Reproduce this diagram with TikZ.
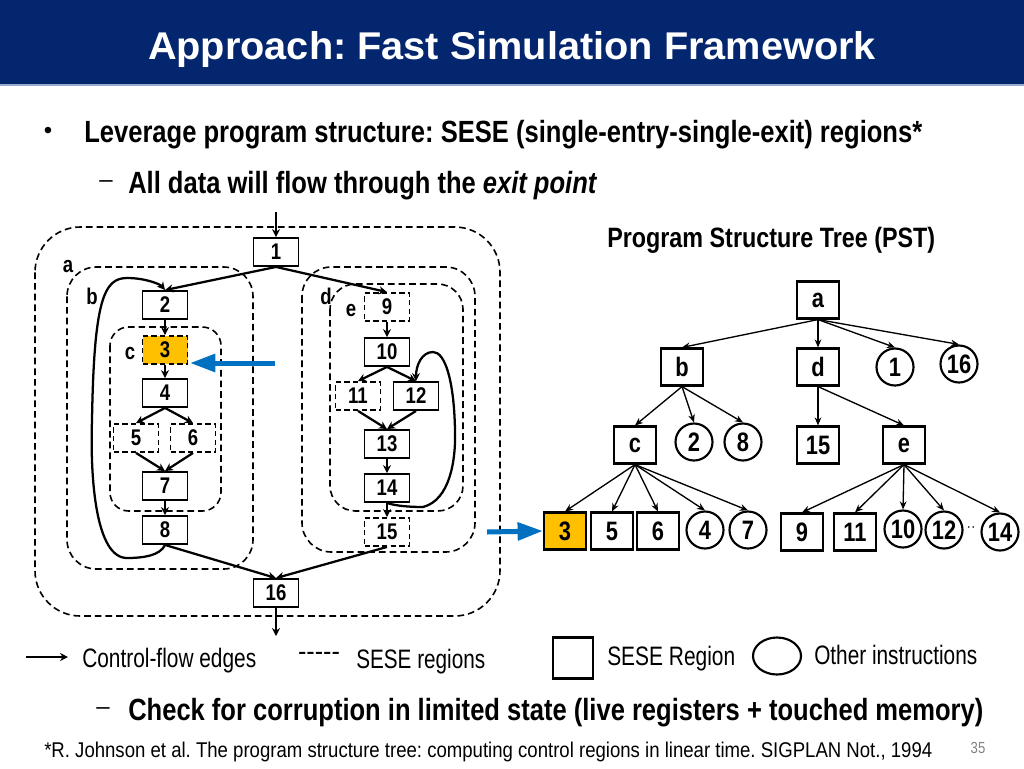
\documentclass[tikz,border=0pt]{standalone}
\usepackage{fontspec}
\usepackage{graphicx}
\setmainfont{Liberation Sans}
\newfontfamily\nar{Liberation Sans}[FakeStretch=0.82]
\usetikzlibrary{arrows.meta}
\definecolor{navy}{RGB}{4,38,110}
\definecolor{pblue}{RGB}{0,112,192}
\definecolor{pyel}{RGB}{255,192,0}
\definecolor{hline}{RGB}{150,170,205}
\newcommand\fitw[2]{\resizebox{#1}{\height}{#2}}
\frenchspacing
\tikzset{
  cfg/.style={draw, line width=1.4pt, fill=white, minimum width=33.75pt, minimum height=21pt, inner sep=0pt, font=\nar\bfseries\fontsize{17}{20}\selectfont},
  cfgd/.style={cfg, dash pattern=on 4pt off 2.5pt},
  region/.style={draw, line width=1.2pt, dash pattern=on 5pt off 3pt},
  edge/.style={-{Stealth[length=6pt,width=6pt]}, line width=1.7pt},
  tbox/.style={draw, line width=1.6pt, fill=white, minimum width=31.5pt, minimum height=27.75pt, inner sep=0pt, font=\nar\bfseries\fontsize{20}{24}\selectfont},
  tcirc/.style={circle, draw, line width=1.6pt, fill=white, minimum size=27.75pt, inner sep=0pt, font=\nar\bfseries\fontsize{20}{24}\selectfont},
  tedge/.style={-{Stealth[length=6pt,width=5pt]}, line width=1pt},
  lbl/.style={font=\nar\bfseries\fontsize{17}{20}\selectfont, inner sep=0pt},
  barrow/.style={pblue, line width=3.75pt, -{Triangle[length=19pt,width=13pt]}},
  txt/.style={inner sep=0pt, anchor=base west},
}
\begin{document}
\begin{tikzpicture}[x=0.75pt,y=-0.75pt]
\useasboundingbox (0,0) rectangle (1024,768);
% header
\fill[navy] (0,0) rectangle (1024,84);
\draw[hline, line width=1pt] (0,85) -- (1024,85);
\node[inner sep=0pt, anchor=base, text=white] (title) at (512,59) {\fitw{546pt}{\bfseries\fontsize{29}{34}\selectfont Approach: Fast Simulation Framework}};
% bullets
\node[inner sep=0pt] (bul1) at (48,133) {\fontsize{18}{20}\selectfont\textbullet};
\node[txt] (t1) at (84,142) {\fitw{628.5pt}{\nar\bfseries\fontsize{23}{28}\selectfont Leverage program structure: SESE (single-entry-single-exit) regions*}};
\node[inner sep=0pt] (dash1) at (106,184) {\fontsize{18}{20}\selectfont --};
\node[txt] (t2) at (128,193) {\fitw{351.75pt}{\nar\bfseries\fontsize{23}{28}\selectfont All data will flow through the \textit{exit point}}};
% regions
\draw[region, rounded corners=34pt] (35,227) rectangle (500,616);
\draw[region, rounded corners=22pt] (67,267) rectangle (253,569);
\draw[region, rounded corners=14pt] (110,327) rectangle (221,511);
\draw[region, rounded corners=22pt] (302,267) rectangle (475,552);
\draw[region, rounded corners=19pt] (330,284) rectangle (463,511);
\node[lbl] (la) at (68,267) {a};
\node[lbl] (lb) at (92,296) {b};
\node[lbl] (lc) at (130,354) {c};
\node[lbl] (ld) at (326,296) {d};
\node[lbl] (le) at (351,311) {e};
% cfg nodes
\node[cfg] (n1) at (276,252) {1};
\node[cfg] (n2) at (165,305) {2};
\node[cfgd, fill=pyel] (n3) at (165,350) {3};
\node[cfg] (n4) at (165,393) {4};
\node[cfgd] (n5) at (136,438) {5};
\node[cfgd] (n6) at (193,438) {6};
\node[cfg] (n7) at (165,486) {7};
\node[cfg] (n8) at (165,530) {8};
\node[cfgd] (n9) at (387,307) {9};
\node[cfg] (n10) at (387,352) {10};
\node[cfgd] (n11) at (358,396) {11};
\node[cfg] (n12) at (416,396) {12};
\node[cfg] (n13) at (387,444) {13};
\node[cfg] (n14) at (387,488) {14};
\node[cfgd] (n15) at (387,532) {15};
\node[cfg] (n16) at (276,593) {16};
\coordinate (entry) at (276,212);
\coordinate (exit) at (276,636);
% cfg edges
\draw[edge] (entry) -- (n1.north);
\draw[edge] (n1.south) -- (n2.north);
\draw[edge] (n1.south) -- (n9.north);
\draw[edge] (n2.south) -- (n3.north);
\draw[edge] (n3.south) -- (n4.north);
\draw[edge] (n4.south) -- (n5.north);
\draw[edge] (n4.south) -- (n6.north);
\draw[edge] (n5.south) -- (n7.north);
\draw[edge] (n6.south) -- (n7.north);
\draw[edge] (n7.south) -- (n8.north);
\draw[edge] (n8.south) -- (n16.north);
\draw[edge] (n9.south) -- (n10.north);
\draw[edge] (n10.south) -- (n11.north);
\draw[edge] (n10.south) -- (n12.north);
\draw[edge] (n11.south) -- (n13.north);
\draw[edge] (n12.south) -- (n13.north);
\draw[edge] (n13.south) -- (n14.north);
\draw[edge] (n14.south) -- (n15.north);
\draw[edge] (n15.south) -- (n16.north);
\draw[edge] (n16.south) -- (exit);
\draw[edge] (n8.south) .. controls (160,556) and (142,558) .. (127,558)
  .. controls (96,558) and (90,480) .. (92,420)
  .. controls (94,300) and (104,278) .. (127,278)
  .. controls (145,278) and (160,284) .. (n2.north);
\draw[edge] (n14.south) .. controls (396,506) and (410,507) .. (423,507)
  .. controls (450,500) and (456,460) .. (455,430)
  .. controls (454,380) and (445,352) .. (433,352)
  .. controls (422,352) and (416,365) .. (n12.north);
% blue arrows
\coordinate (ba1) at (275,363);
\coordinate (ba1t) at (190,363);
\draw[barrow] (ba1) -- (ba1t);
% tree
\node[txt] (pst) at (607,247) {\fitw{246pt}{\nar\bfseries\fontsize{21}{25}\selectfont Program Structure Tree (PST)}};
\node[tbox] (ta) at (818,300) {a};
\node[tbox] (tb) at (682,367) {b};
\node[tbox] (td) at (818,367) {d};
\node[tcirc] (t1c) at (895,367) {1};
\node[tcirc] (t16) at (959,364) {16};
\node[tbox] (tc) at (635,445) {c};
\node[tcirc] (t2c) at (694,442) {2};
\node[tcirc] (t8c) at (743,442) {8};
\node[tbox] (t15) at (818,445) {15};
\node[tbox] (te) at (904,445) {e};
\node[tbox, fill=pyel] (t3) at (565,531) {3};
\node[tbox] (t5) at (612,531) {5};
\node[tbox] (t6) at (658,531) {6};
\node[tcirc] (t4c) at (705,530) {4};
\node[tcirc] (t7c) at (748,530) {7};
\node[tbox] (t9) at (802,532) {9};
\node[tbox] (t11) at (855,532) {11};
\node[tcirc] (t10c) at (903,529) {10};
\node[tcirc] (t12c) at (944,530) {12};
\node[tcirc] (t14c) at (1000,532) {14};
\node[inner sep=0pt, font=\bfseries\fontsize{12}{12}\selectfont] (dots) at (971,528) {$\cdot\cdot$};
\draw[tedge] (ta.south) -- (tb.north);
\draw[tedge] (ta.south) -- (td.north);
\draw[tedge] (ta.south) -- (t1c.north);
\draw[tedge] (ta.south) -- (t16.north);
\draw[tedge] (tb.south) -- (tc.north);
\draw[tedge] (tb.south) -- (t2c.north);
\draw[tedge] (tb.south) -- (t8c.north);
\draw[tedge] (td.south) -- (t15.north);
\draw[tedge] (td.south) -- (te.north);
\draw[tedge] (tc.south) -- (t3.north);
\draw[tedge] (tc.south) -- (t5.north);
\draw[tedge] (tc.south) -- (t6.north);
\draw[tedge] (tc.south) -- (t4c.north);
\draw[tedge] (tc.south) -- (t7c.north);
\draw[tedge] (te.south) -- (t9.north);
\draw[tedge] (te.south) -- (t11.north);
\draw[tedge] (te.south) -- (t10c.north);
\draw[tedge] (te.south) -- (t12c.north);
\draw[tedge] (te.south) -- (t14c.north);
\coordinate (ba2) at (487,532);
\draw[barrow] (ba2) -- (t3.west);
% legend
\coordinate (lg1) at (26,657);
\coordinate (lg2) at (68,657);
\draw[edge] (lg1) -- (lg2);
\node[txt] (lt1) at (82,667) {\fitw{130.5pt}{\nar\fontsize{20}{24}\selectfont Control-flow edges}};
\node[inner sep=0pt] (ldash) at (319,656) {\fitw{31.5pt}{\nar\fontsize{20}{24}\selectfont -{}-{}-{}-{}-}};
\node[txt] (lt2) at (356,668) {\fitw{96.75pt}{\nar\fontsize{20}{24}\selectfont SESE regions}};
\node[draw, line width=1.6pt, minimum width=30pt, minimum height=30.75pt, inner sep=0pt] (lsq) at (573,658) {};
\node[txt] (lt3) at (607,665) {\fitw{96pt}{\nar\fontsize{20}{24}\selectfont SESE Region}};
\draw[line width=1.6pt] (777,656) ellipse (24 and 18.5);
\node[txt] (lt4) at (814,664) {\fitw{122.25pt}{\nar\fontsize{20}{24}\selectfont Other instructions}};
% bottom
\node[inner sep=0pt] (dash2) at (103,711) {\fontsize{18}{20}\selectfont --};
\node[txt] (t3line) at (128,720) {\fitw{641.25pt}{\nar\bfseries\fontsize{23}{28}\selectfont Check for corruption in limited state (live registers + touched memory)}};
\node[txt] (foot) at (44,757) {\fitw{666pt}{\nar\fontsize{16}{19}\selectfont *R. Johnson et al. The program structure tree: computing control regions in linear time. SIGPLAN Not., 1994}};
\node[inner sep=0pt, text=gray] (pg) at (978,748) {\nar\fontsize{12}{14}\selectfont 35};
\end{tikzpicture}
\end{document}
